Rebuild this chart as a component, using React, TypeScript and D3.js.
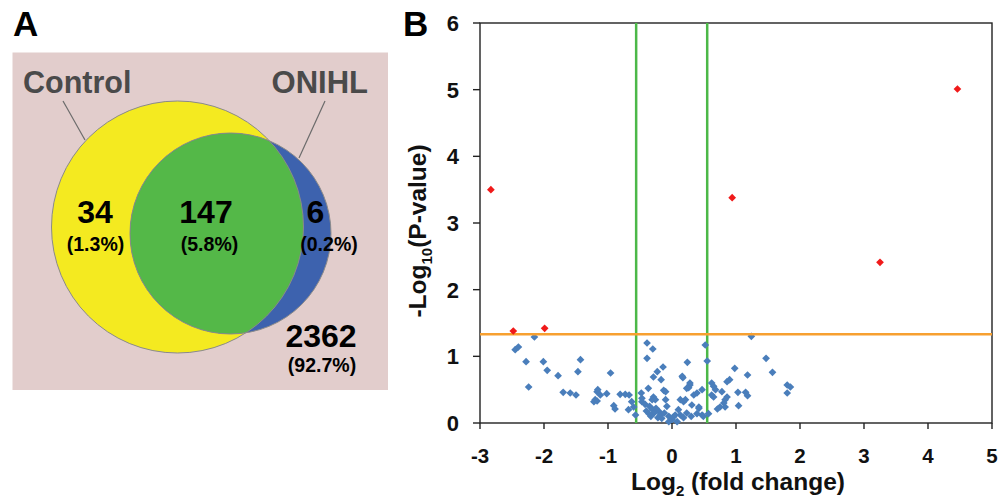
import React from "react";
import * as d3 from "d3";

// Panel A: Venn counts
const vennLabels = ["Control", "ONIHL"];
const vennCounts = [34, 147, 6, 2362]; // control only, both, ONIHL only, neither

// Panel B: volcano plot
const xTicks = [-3, -2, -1, 0, 1, 2, 3, 4, 5];
const yTicks = [0, 1, 2, 3, 4, 5, 6];
const foldCut = [-0.56, 0.55];
const pCut = 1.33;

const sigPoints: [number, number][] = [
  [-2.83, 3.5], [-2.48, 1.38], [-1.99, 1.42], [0.94, 3.38], [3.25, 2.41], [4.46, 5.01],
];

const nsPoints: [number, number][] = [
  [-2.45, 1.1], [-2.4, 1.14], [-2.15, 1.29], [-2.28, 0.92], [-2.01, 0.92], [-1.95, 0.79],
  [-2.24, 0.54], [-1.78, 0.71], [-1.7, 0.46], [-1.59, 0.45], [-1.5, 0.42], [-1.43, 0.95],
  [-1.47, 0.77], [-1.16, 0.5], [-1.17, 0.47], [-1.12, 0.42], [-1.2, 0.35], [-1.22, 0.32],
  [-1.17, 0.33], [-1.02, 0.44], [-0.96, 0.75], [-0.91, 0.26], [-0.89, 0.21], [-0.81, 0.43],
  [-0.73, 0.43], [-0.67, 0.42], [-0.63, 0.32], [-0.6, 0.24], [-0.68, 0.2], [-0.57, 0.12],
  [-0.48, 0.45], [-0.47, 0.32], [-0.47, 0.37], [-0.39, 1.2], [-0.3, 1.11], [-0.39, 0.97],
  [-0.14, 0.84], [-0.23, 0.77], [-0.29, 0.69], [-0.17, 0.65], [-0.13, 0.49], [-0.1, 0.47],
  [-0.29, 0.39], [-0.26, 0.35], [-0.37, 0.52], [-0.31, 0.35], [-0.1, 0.35],
  [-0.35, 0.25], [-0.3, 0.2], [-0.25, 0.22], [-0.2, 0.17], [-0.28, 0.15], [-0.18, 0.12],
  [-0.4, 0.18], [-0.33, 0.1], [-0.22, 0.08], [-0.16, 0.07], [-0.12, 0.15], [-0.05, 0.1],
  [-0.05, 0.02], [0.0, 0.05], [0.02, 0.09], [0.08, 0.02], [0.05, 0.12], [0.13, 0.12],
  [0.23, 0.15], [0.18, 0.08], [0.3, 0.1], [0.1, 0.2], [-0.08, 0.25], [-0.42, 0.28],
  [-0.36, 0.14], [0.13, 0.35], [0.18, 0.32], [0.26, 0.53], [0.34, 0.42], [0.47, 0.5],
  [0.31, 0.27], [0.42, 0.22], [0.49, 0.1], [0.17, 0.68], [0.24, 0.91], [0.28, 0.57],
  [0.28, 0.6], [0.21, 0.35], [0.16, 0.7], [0.23, 0.52], [0.39, 0.45], [0.52, 1.17],
  [0.55, 0.93], [0.62, 0.6], [0.65, 0.55], [0.68, 0.5], [0.65, 0.39], [0.62, 0.42],
  [0.78, 0.47], [0.86, 0.39], [0.83, 0.35], [0.81, 0.3], [0.75, 0.24], [0.71, 0.21],
  [0.83, 0.24], [0.86, 0.62], [0.9, 0.65], [0.98, 0.82], [1.03, 0.46], [1.04, 0.26],
  [1.18, 0.72], [1.15, 0.46], [1.18, 0.41], [1.24, 1.3], [1.47, 0.97], [1.57, 0.76],
  [1.8, 0.57], [1.85, 0.54], [1.8, 0.45], [0.42, 0.24], [0.39, 0.14], [0.57, 0.14],
  [0.47, 0.12],
];

const font = "'Liberation Sans', Arial, sans-serif";

function Venn() {
  const total = d3.sum(vennCounts);
  const pct = vennCounts.map((v) => `(${((v / total) * 100).toFixed(1)}%)`);
  const ctrl = { cx: 177.5, cy: 227, r: 126 };
  const onihl = { cx: 230.5, cy: 233.5, r: 100.5 };
  const numY = 222.5;
  const pctY = 251;
  return (
    <g fontFamily={font} fontWeight="bold">
      <text x={13} y={36} fontSize={35} fill="#000">A</text>
      <rect x={12.5} y={52.5} width={375.5} height={337.5} fill="#e2cdcc" />
      <defs>
        <clipPath id="ctrl-clip">
          <circle cx={ctrl.cx} cy={ctrl.cy} r={ctrl.r} />
        </clipPath>
      </defs>
      <line x1={63} y1={101} x2={85} y2={140} stroke="#6b6b6b" strokeWidth={1.2} />
      <line x1={325} y1={101} x2={299} y2={158} stroke="#6b6b6b" strokeWidth={1.2} />
      <circle cx={ctrl.cx} cy={ctrl.cy} r={ctrl.r} fill="#f4ea20" />
      <circle cx={onihl.cx} cy={onihl.cy} r={onihl.r} fill="#3d62ae" />
      <circle cx={onihl.cx} cy={onihl.cy} r={onihl.r} fill="#54b848" clipPath="url(#ctrl-clip)" />
      <circle cx={ctrl.cx} cy={ctrl.cy} r={ctrl.r} fill="none" stroke="#8a8a8a" strokeWidth={1} />
      <circle cx={onihl.cx} cy={onihl.cy} r={onihl.r} fill="none" stroke="#8a8a8a" strokeWidth={1} />
      <text x={23} y={92.5} fontSize={30.5} fill="#4a4a4a">{vennLabels[0]}</text>
      <text x={368} y={92.5} fontSize={31} fill="#4a4a4a" textAnchor="end">{vennLabels[1]}</text>
      <g textAnchor="middle" fill="#000">
        <text x={95} y={numY} fontSize={32}>{vennCounts[0]}</text>
        <text x={95.5} y={pctY} fontSize={19.5}>{pct[0]}</text>
        <text x={206} y={numY} fontSize={32}>{vennCounts[1]}</text>
        <text x={209.5} y={pctY} fontSize={19.5}>{pct[1]}</text>
        <text x={315.5} y={numY} fontSize={32}>{vennCounts[2]}</text>
        <text x={329} y={pctY} fontSize={19.5}>{pct[2]}</text>
        <text x={321} y={346.5} fontSize={32}>{vennCounts[3]}</text>
        <text x={322} y={372} fontSize={19.5}>{pct[3]}</text>
      </g>
    </g>
  );
}

function Volcano() {
  const left = 480, right = 992, top = 23, bottom = 423;
  const x = d3.scaleLinear().domain([-3, 5]).range([left, right]);
  const y = d3.scaleLinear().domain([0, 6]).range([bottom, top]);
  const diamond = d3.symbol(d3.symbolSquare, 30)()!;
  return (
    <g fontFamily={font} fontWeight="bold">
      <text x={403} y={36} fontSize={35} fill="#000">B</text>
      <rect x={left} y={top} width={right - left} height={bottom - top} fill="#fff" stroke="#222" strokeWidth={1.4} />
      {foldCut.map((v) => (
        <line key={v} x1={x(v)} x2={x(v)} y1={top} y2={bottom} stroke="#4cb848" strokeWidth={2.5} />
      ))}
      {nsPoints.map(([a, b], i) => (
        <path key={`n${i}`} d={diamond} transform={`translate(${x(a)},${y(b)}) rotate(45)`} fill="#4a7ebb" />
      ))}
      <line x1={left} x2={right} y1={y(pCut)} y2={y(pCut)} stroke="#f7a030" strokeWidth={2.5} />
      {sigPoints.map(([a, b], i) => (
        <path key={`s${i}`} d={diamond} transform={`translate(${x(a)},${y(b)}) rotate(45)`} fill="#f01a1a" />
      ))}
      {yTicks.map((t) => (
        <g key={`y${t}`}>
          <line x1={left - 7} x2={left} y1={y(t)} y2={y(t)} stroke="#222" strokeWidth={1.4} />
          <text x={459} y={y(t)} dy="0.36em" textAnchor="end" fontSize={22} fill="#111">{t}</text>
        </g>
      ))}
      {xTicks.map((t) => (
        <g key={`x${t}`}>
          <line x1={x(t)} x2={x(t)} y1={bottom} y2={bottom + 6} stroke="#222" strokeWidth={1.4} />
          <text x={x(t)} y={463} textAnchor="middle" fontSize={20.5} fill="#111">{t}</text>
        </g>
      ))}
      <text x={738} y={490} textAnchor="middle" fontSize={24.5} fill="#111">
        Log<tspan fontSize={15} dy={6}>2</tspan><tspan dy={-6}> (fold change)</tspan>
      </text>
      <text transform="translate(426,231) rotate(-90)" textAnchor="middle" fontSize={24.5} fill="#111">
        -Log<tspan fontSize={15} dy={6}>10</tspan><tspan dy={-6}>(P-value)</tspan>
      </text>
    </g>
  );
}

export default function App() {
  return (
    <svg width={998} height={499} style={{ position: "absolute", left: 0, top: 0, background: "#fff" }}>
      <rect width={998} height={499} fill="#fff" />
      <Venn />
      <Volcano />
    </svg>
  );
}
